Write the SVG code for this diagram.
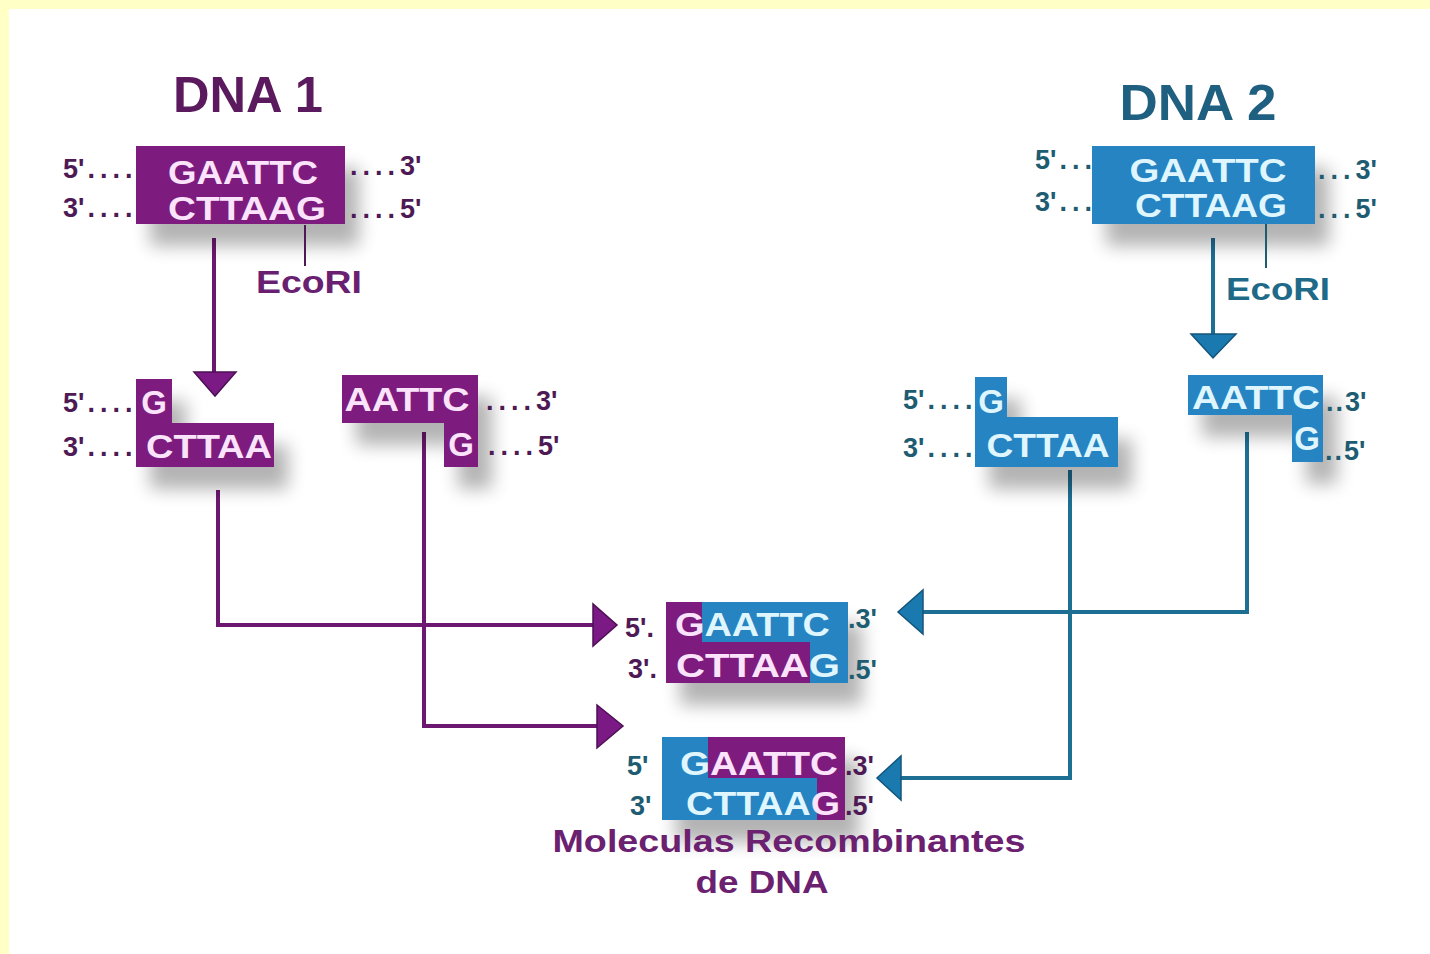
<svg xmlns="http://www.w3.org/2000/svg" width="1430" height="954" viewBox="0 0 1430 954">
<defs>
<filter id="sh" x="-30%" y="-30%" width="180%" height="220%">
<feGaussianBlur in="SourceAlpha" stdDeviation="9"/>
<feOffset dx="14" dy="22" result="b"/>
<feComponentTransfer><feFuncA type="linear" slope="0.3"/></feComponentTransfer>
<feMerge><feMergeNode/><feMergeNode in="SourceGraphic"/></feMerge>
</filter>
</defs>
<style>
text{font-family:"Liberation Sans",Arial,sans-serif;font-weight:bold}
.title{font-size:50px}
.p{fill:#7d1b7e}
.b{fill:#2784c2}
.seq{font-size:33px}
.pt{fill:#fbe4fb}
.bt{fill:#dff6ff}
.lab{font-size:27px}
.d{letter-spacing:5px}
.pl{fill:#4e1a55}
.bl{fill:#1e5c72}
.enz{font-size:31px}
.cp{fill:none;stroke:#6d1870;stroke-width:4}
.cb{fill:none;stroke:#1d6f94;stroke-width:4}
.hp{fill:#7b1a85;stroke:#4e0f55;stroke-width:1.5}
.hb{fill:#1a7ab0;stroke:#13557a;stroke-width:1.5}
.tick{stroke-width:2}
</style>
<rect x="0" y="0" width="1430" height="954" fill="#ffffff"/>
<rect x="0" y="0" width="1430" height="9" fill="#ffffc6"/>
<rect x="0" y="0" width="9" height="954" fill="#ffffc6"/>

<g id="connectors">
<line class="cp" x1="214" y1="238" x2="214" y2="374"/>
<polygon class="hp" points="194,372 236,372 215,396"/>
<path class="cp" d="M218 490 V625 H595"/>
<polygon class="hp" points="593,604 593,646 617,625"/>
<path class="cp" d="M424 432 V726 H598"/>
<polygon class="hp" points="597,705 597,748 623,726"/>
<line class="cb" x1="1213" y1="238" x2="1213" y2="336"/>
<polygon class="hb" points="1191,334 1236,334 1213,358"/>
<path class="cb" d="M1247 432 V612 H922"/>
<polygon class="hb" points="923,590 923,634 898,612"/>
<path class="cb" d="M1070 470 V778 H900"/>
<polygon class="hb" points="901,756 901,800 877,778"/>
</g>

<g id="dna1-title"><text class="title" x="248" y="112" text-anchor="middle" fill="#5c1a5e" textLength="150" lengthAdjust="spacingAndGlyphs">DNA 1</text></g>

<g id="dna1">
<rect class="p" x="136" y="146" width="209" height="78" filter="url(#sh)"/>
<text class="seq pt" x="243" y="184" text-anchor="middle" textLength="150" lengthAdjust="spacingAndGlyphs">GAATTC</text>
<text class="seq pt" x="247" y="220" text-anchor="middle" textLength="158" lengthAdjust="spacingAndGlyphs">CTTAAG</text>
<text class="lab pl" x="63" y="178">5'<tspan class="d" dx="3">...</tspan>.</text>
<text class="lab pl" x="63" y="217">3'<tspan class="d" dx="3">...</tspan>.</text>
<text class="lab pl" x="350" y="175"><tspan class="d">....</tspan>3'</text>
<text class="lab pl" x="350" y="218"><tspan class="d">....</tspan>5'</text>
<line class="tick" x1="305" y1="225" x2="305" y2="266" stroke="#4e1a55"/>
<text class="enz" x="309" y="293" text-anchor="middle" fill="#6a2070" textLength="106" lengthAdjust="spacingAndGlyphs">EcoRI</text>
</g>

<g id="dna1-fragment-left">
<polygon class="p" points="136,379 172,379 172,423 274,423 274,467 136,467" filter="url(#sh)"/>
<text class="seq pt" x="154" y="414" text-anchor="middle">G</text>
<text class="seq pt" x="209" y="458" text-anchor="middle" textLength="126" lengthAdjust="spacingAndGlyphs">CTTAA</text>
<text class="lab pl" x="63" y="412">5'<tspan class="d" dx="3">...</tspan>.</text>
<text class="lab pl" x="63" y="456">3'<tspan class="d" dx="3">...</tspan>.</text>
</g>

<g id="dna1-fragment-right">
<polygon class="p" points="342,375 478,375 478,467 444,467 444,423 342,423" filter="url(#sh)"/>
<text class="seq pt" x="407" y="411" text-anchor="middle" textLength="125" lengthAdjust="spacingAndGlyphs">AATTC</text>
<text class="seq pt" x="461" y="456" text-anchor="middle">G</text>
<text class="lab pl" x="486" y="410"><tspan class="d">....</tspan>3'</text>
<text class="lab pl" x="488" y="455"><tspan class="d">....</tspan>5'</text>
</g>

<g id="dna2-title"><text class="title" x="1198" y="120" text-anchor="middle" fill="#1f5f80" textLength="157" lengthAdjust="spacingAndGlyphs">DNA 2</text></g>

<g id="dna2">
<rect class="b" x="1092" y="146" width="223" height="78" filter="url(#sh)"/>
<text class="seq bt" x="1208" y="182" text-anchor="middle" textLength="157" lengthAdjust="spacingAndGlyphs">GAATTC</text>
<text class="seq bt" x="1211" y="217" text-anchor="middle" textLength="152" lengthAdjust="spacingAndGlyphs">CTTAAG</text>
<text class="lab bl" x="1035" y="169">5'<tspan class="d" dx="3">..</tspan>.</text>
<text class="lab bl" x="1035" y="211">3'<tspan class="d" dx="3">..</tspan>.</text>
<text class="lab bl" x="1318" y="179"><tspan class="d">...</tspan>3'</text>
<text class="lab bl" x="1318" y="218"><tspan class="d">...</tspan>5'</text>
<line class="tick" x1="1266" y1="224" x2="1266" y2="268" stroke="#1e5c72"/>
<text class="enz" x="1278" y="300" text-anchor="middle" fill="#1f6a88" textLength="104" lengthAdjust="spacingAndGlyphs">EcoRI</text>
</g>

<g id="dna2-fragment-left">
<polygon class="b" points="975,377 1007,377 1007,417 1118,417 1118,467 975,467" filter="url(#sh)"/>
<text class="seq bt" x="991" y="413" text-anchor="middle">G</text>
<text class="seq bt" x="1048" y="457" text-anchor="middle" textLength="123" lengthAdjust="spacingAndGlyphs">CTTAA</text>
<text class="lab bl" x="903" y="409">5'<tspan class="d" dx="3">...</tspan>.</text>
<text class="lab bl" x="903" y="457">3'<tspan class="d" dx="3">...</tspan>.</text>
</g>

<g id="dna2-fragment-right">
<polygon class="b" points="1188,375 1323,375 1323,462 1292,462 1292,415 1188,415" filter="url(#sh)"/>
<text class="seq bt" x="1256" y="409" text-anchor="middle" textLength="128" lengthAdjust="spacingAndGlyphs">AATTC</text>
<text class="seq bt" x="1307" y="450" text-anchor="middle">G</text>
<text class="lab bl" x="1326" y="411"><tspan style="letter-spacing:2px">..</tspan>3'</text>
<text class="lab bl" x="1325" y="460"><tspan style="letter-spacing:2px">..</tspan>5'</text>
</g>

<g id="recombinant-1">
<g filter="url(#sh)">
<polygon class="p" points="666,602 702,602 702,642 810,642 810,683 666,683"/>
<polygon class="b" points="702,602 848,602 848,683 810,683 810,642 702,642"/>
</g>
<text class="seq" x="675" y="636" textLength="155" lengthAdjust="spacingAndGlyphs"><tspan class="pt">G</tspan><tspan class="bt">AATTC</tspan></text>
<text class="seq" x="676" y="677" textLength="164" lengthAdjust="spacingAndGlyphs"><tspan class="pt">CTTAA</tspan><tspan class="bt">G</tspan></text>
<text class="lab pl" x="625" y="637">5'.</text>
<text class="lab pl" x="628" y="678">3'.</text>
<text class="lab bl" x="848" y="628">.3'</text>
<text class="lab bl" x="848" y="679">.5'</text>
</g>

<g id="recombinant-2">
<g filter="url(#sh)">
<rect class="b" x="662" y="737" width="183" height="83"/>
<polygon class="p" points="708,737 845,737 845,820 817,820 817,778 708,778"/>
</g>
<text class="seq" x="680" y="775" textLength="158" lengthAdjust="spacingAndGlyphs"><tspan class="bt">G</tspan><tspan class="pt">AATTC</tspan></text>
<text class="seq" x="686" y="815" textLength="154" lengthAdjust="spacingAndGlyphs"><tspan class="bt">CTTAA</tspan><tspan class="pt">G</tspan></text>
<text class="lab bl" x="627" y="775">5'</text>
<text class="lab bl" x="630" y="815">3'</text>
<text class="lab pl" x="845" y="775">.3'</text>
<text class="lab pl" x="845" y="815">.5'</text>
</g>

<g id="label">
<text x="789" y="852" text-anchor="middle" font-size="32" fill="#6b2070" textLength="473" lengthAdjust="spacingAndGlyphs">Moleculas Recombinantes</text>
<text x="762" y="893" text-anchor="middle" font-size="32" fill="#6b2070" textLength="133" lengthAdjust="spacingAndGlyphs">de DNA</text>
</g>
</svg>
